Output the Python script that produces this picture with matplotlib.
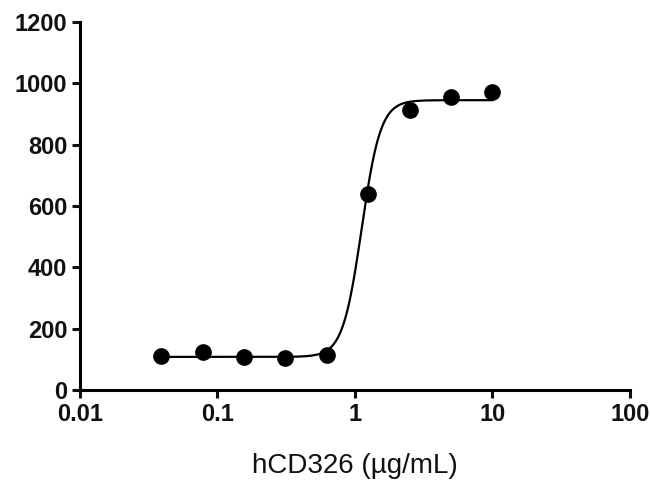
import numpy as np
import matplotlib
matplotlib.use('Agg')
import matplotlib.pyplot as plt
from matplotlib.ticker import FixedLocator, FixedFormatter, NullLocator

# measured points
conc = [0.039, 0.078, 0.156, 0.3125, 0.625, 1.25, 2.5, 5, 10]
signal = [111, 124, 108, 104, 114, 639, 913, 955, 972]

# 4PL fit parameters
BOTTOM = 108
TOP = 945
EC50 = 1.12
HILL = 6.3

x_ticks = [0.01, 0.1, 1, 10, 100]
x_tick_labels = ['0.01', '0.1', '1', '10', '100']
y_ticks = [0, 200, 400, 600, 800, 1000, 1200]

plt.rcParams['font.family'] = ['Liberation Sans', 'DejaVu Sans']

fig = plt.figure(figsize=(6.5, 4.83), dpi=100)
ax = fig.add_axes([0.123, 0.1925, 0.846, 0.762])

xs = np.logspace(np.log10(conc[0]), np.log10(conc[-1]), 400)
ys = BOTTOM + (TOP - BOTTOM) / (1 + (EC50 / xs) ** HILL)
ax.plot(xs, ys, color='black', lw=1.6, zorder=2)
ax.plot(conc, signal, 'o', color='black', ms=11, zorder=3, clip_on=False)

ax.set_xscale('log')
ax.set_xlim(0.01, 100)
ax.set_ylim(0, 1200)
ax.xaxis.set_major_locator(FixedLocator(x_ticks))
ax.xaxis.set_major_formatter(FixedFormatter(x_tick_labels))
ax.xaxis.set_minor_locator(NullLocator())
ax.set_yticks(y_ticks)

for sp in ['top', 'right']:
    ax.spines[sp].set_visible(False)
for sp in ['left', 'bottom']:
    ax.spines[sp].set_linewidth(2.2)

ax.tick_params(axis='both', which='major', length=6, width=2.2,
               labelsize=17, pad=3, colors='#111111')
for lab in ax.get_xticklabels() + ax.get_yticklabels():
    lab.set_fontweight('bold')

ax.set_xlabel('hCD326 (µg/mL)', fontsize=20, labelpad=20, color='#111111')

fig.savefig('out.png', dpi=100)
